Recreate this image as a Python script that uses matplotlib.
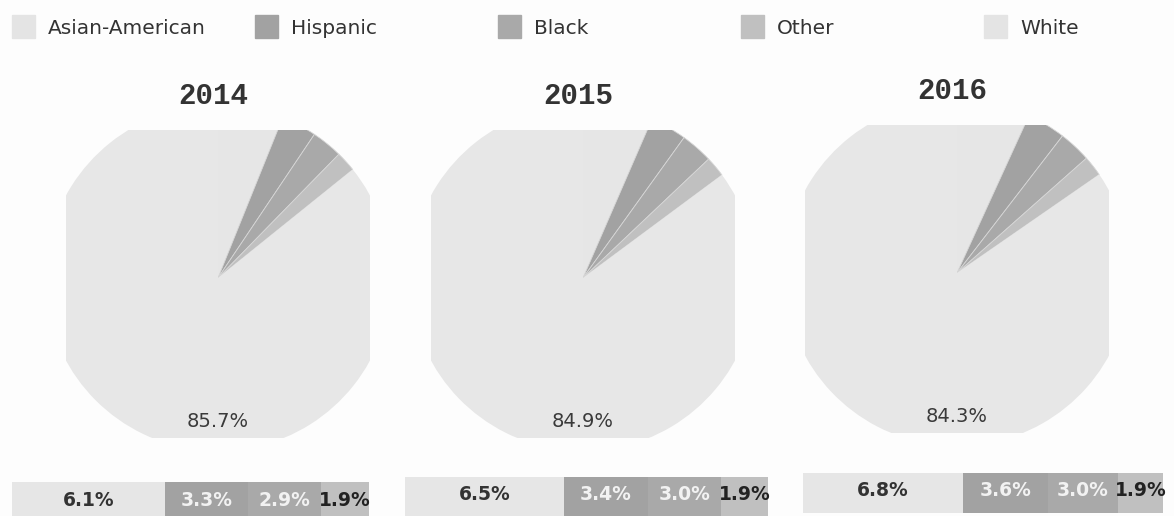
import matplotlib.pyplot as plt
from matplotlib.patches import Rectangle

# data
years = ["2014", "2015", "2016"]
groups = ["Asian-American", "Hispanic", "Black", "Other", "White"]
asian = [6.1, 6.5, 6.8]
hispanic = [3.3, 3.4, 3.6]
black = [2.9, 3.0, 3.0]
other = [1.9, 1.9, 1.9]
white = [85.7, 84.9, 84.3]

colors = ["#e6e6e6", "#a2a2a2", "#a9a9a9", "#c0c0c0", "#e7e7e7"]
bar_txt = ["#333333", "#f2f2f2", "#f2f2f2", "#222222"]

W, H = 1174, 516
fig = plt.figure(figsize=(W / 100, H / 100), dpi=100)
fig.patch.set_facecolor("#fdfdfd")


def px(x0, y0, w, h):
    # pixel box (top-left origin) -> figure fraction
    return [x0 / W, 1 - (y0 + h) / H, w / W, h / H]


# legend across the top
for i, g in enumerate(groups):
    x = 12 + 243 * i
    fig.patches.append(Rectangle((x / W, 1 - 38 / H), 23 / W, 23 / H,
                                 transform=fig.transFigure,
                                 color=colors[i] if i not in (0, 4) else "#e4e4e4",
                                 zorder=1))
    fig.text((x + 36) / W, 1 - 29 / H, g, fontsize=14.5, color="#333333",
             va="center", ha="left", family="DejaVu Sans")

# pies: centre position in pixels
centres = [(218, 278), (583, 278), (957, 273)]
R = 173.0
for k, yr in enumerate(years):
    cx, cy = centres[k]
    ax = fig.add_axes(px(cx - 152, cy - 148, 304, 308))
    vals = [asian[k], hispanic[k], black[k], other[k], white[k]]
    wedges, _ = ax.pie(vals, colors=colors, startangle=90, counterclock=False, radius=1,
                       wedgeprops=dict(linewidth=0.6, edgecolor="#d6d6d6"), frame=False)
    for j, w in enumerate(wedges):
        w.set_clip_on(True)
        w.set_clip_path(ax.patch)
        if j in (0, 4):
            w.set_linewidth(0)
    ax.set_xlim(-152 / R, 152 / R)
    ax.set_ylim(-160 / R, 148 / R)
    ax.set_aspect("equal")
    ax.axis("off")
    ax.text(0, -0.83, "%.1f%%" % white[k], ha="center", va="center",
            fontsize=14, color="#3a3a3a", family="DejaVu Sans")
    fig.text((cx - 5) / W, 1 - (cy - 182) / H, yr, ha="center", va="center",
             fontsize=21, color="#333333", family="Liberation Mono", weight="bold")

# stacked bars of the small groups
bar_boxes = [(12, 482, 357), (405, 477, 363), (803, 473, 360)]
for k, yr in enumerate(years):
    bx, by, bw = bar_boxes[k]
    bax = fig.add_axes(px(bx, by, bw, 40))
    segs = [asian[k], hispanic[k], black[k], other[k]]
    left = 0
    for j, v in enumerate(segs):
        bax.barh(0, v, left=left, height=1, color=colors[j], linewidth=0)
        bax.text(left + v / 2, 0.05, "%.1f%%" % v, ha="center", va="center",
                 fontsize=13.5, color=bar_txt[j], weight="bold", family="DejaVu Sans")
        left += v
    bax.set_xlim(0, left)
    bax.set_ylim(-0.5, 0.5)
    bax.axis("off")

fig.savefig("out.png", dpi=100, facecolor=fig.get_facecolor())
